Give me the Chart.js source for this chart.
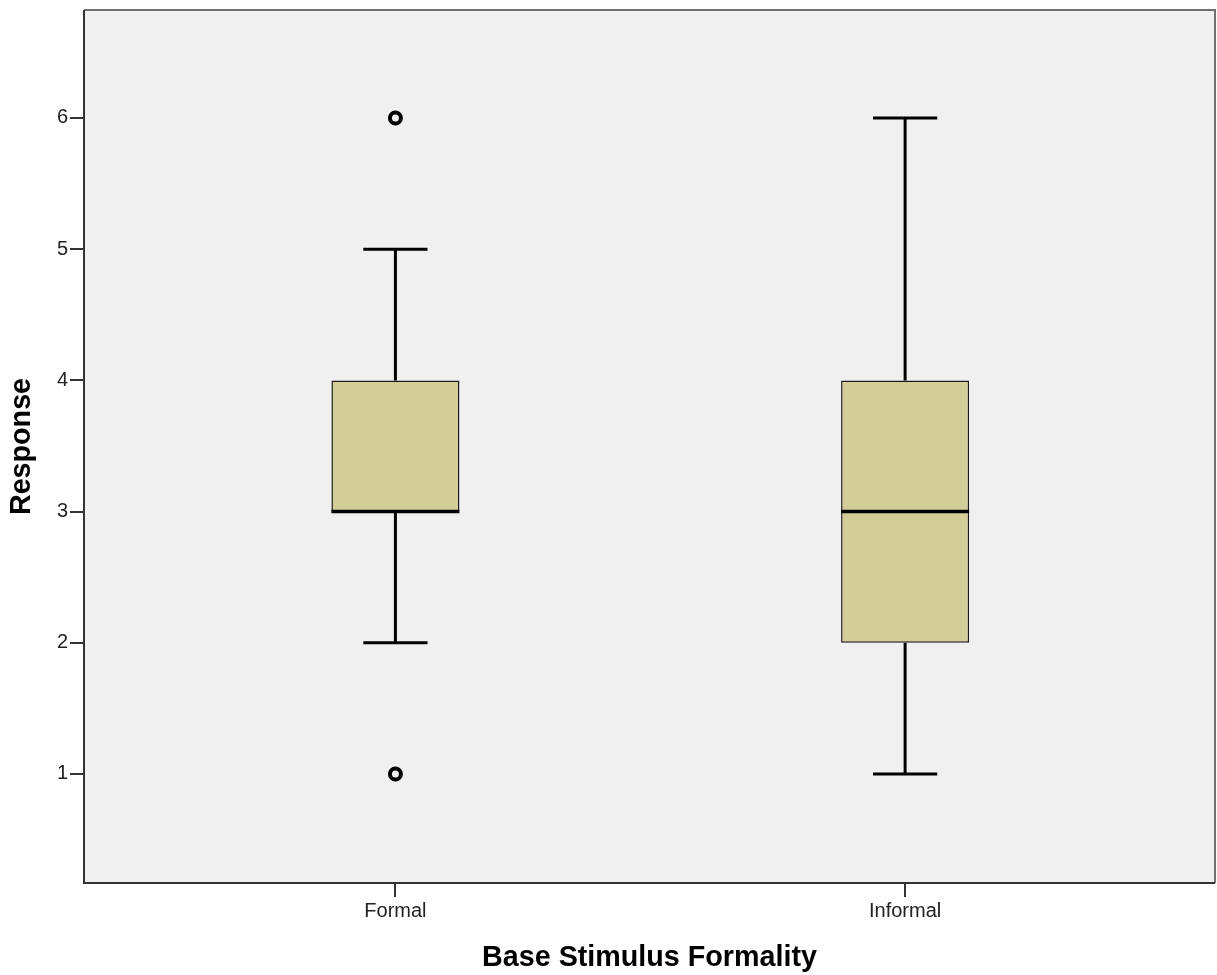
<!DOCTYPE html>
<html><head><meta charset="utf-8">
<script src="https://cdn.jsdelivr.net/npm/chart.js@4/dist/chart.umd.min.js"></script>
<style>html,body{margin:0;padding:0;background:#fff;} canvas{display:block;}</style>
</head><body>
<canvas id="c" width="1217" height="975"></canvas>
<script>
// ---- data ----
const CATEGORIES = ['Formal', 'Informal'];
const CATEGORY_X = [1, 2];
const WHISKER_LOW = [2, 1];
const Q1 = [3, 2];
const MEDIAN = [3, 3];
const Q3 = [4, 4];
const WHISKER_HIGH = [5, 6];
const OUTLIERS = [[1, 6], []];
const Y_TICKS = [1, 2, 3, 4, 5, 6];
const X_TITLE = 'Base Stimulus Formality';
const Y_TITLE = 'Response';

// ---- style constants ----
const BOX_FRACTION = 0.2512;   // box width as fraction of category spacing
const CAP_HALF = 0.063;        // whisker cap half-width (x units)
const BOX_FILL = '#D3CE98';
const PLOT_BG = '#F0F0F0';
const FONT = "'Liberation Sans', Arial, sans-serif";

function seg(arr, x1, y1, x2, y2) {
  arr.push({x: x1, y: y1}, {x: x2, y: y2}, {x: x2, y: null});
}
const whiskerPts = [];
const medianPts = [];
const outlierPts = [];
CATEGORY_X.forEach((x, i) => {
  seg(whiskerPts, x, Q3[i], x, WHISKER_HIGH[i]);
  seg(whiskerPts, x, Q1[i], x, WHISKER_LOW[i]);
  seg(whiskerPts, x - CAP_HALF, WHISKER_HIGH[i], x + CAP_HALF, WHISKER_HIGH[i]);
  seg(whiskerPts, x - CAP_HALF, WHISKER_LOW[i], x + CAP_HALF, WHISKER_LOW[i]);
  seg(medianPts, x - BOX_FRACTION / 2, MEDIAN[i], x + BOX_FRACTION / 2, MEDIAN[i]);
  OUTLIERS[i].forEach(v => outlierPts.push({x: x, y: v}));
});
const boxPts = CATEGORY_X.map((x, i) => ({x: x, y: [Q1[i], Q3[i]]}));

const framePlugin = {
  id: 'frame',
  beforeDraw(chart) {
    const {ctx, chartArea: a} = chart;
    ctx.save();
    ctx.fillStyle = PLOT_BG;
    ctx.fillRect(a.left, a.top, a.right - a.left, a.bottom - a.top);
    ctx.restore();
  },
  afterDraw(chart) {
    const {ctx, chartArea: a} = chart;
    ctx.save();
    ctx.lineWidth = 2;
    ctx.strokeStyle = '#707070';
    ctx.beginPath();
    ctx.moveTo(a.left, a.top); ctx.lineTo(a.right, a.top); ctx.lineTo(a.right, a.bottom);
    ctx.stroke();
    ctx.strokeStyle = '#333333';
    ctx.beginPath();
    ctx.moveTo(a.left, a.top); ctx.lineTo(a.left, a.bottom); ctx.lineTo(a.right, a.bottom);
    ctx.stroke();
    ctx.restore();
  }
};

Chart.defaults.font.family = FONT;
Chart.defaults.color = '#222';

new Chart(document.getElementById('c'), {
  type: 'bar',
  data: {
    datasets: [
      {
        type: 'bar', data: boxPts, backgroundColor: BOX_FILL, borderColor: '#1a1a1a',
        borderWidth: 1.5, borderSkipped: false, categoryPercentage: BOX_FRACTION, barPercentage: 1,
        order: 3
      },
      {
        type: 'line', data: whiskerPts, borderColor: '#000', borderWidth: 3, pointRadius: 0,
        spanGaps: false, fill: false, tension: 0, borderCapStyle: 'butt', order: 2
      },
      {
        type: 'line', data: medianPts, borderColor: '#000', borderWidth: 3.5, pointRadius: 0,
        spanGaps: false, fill: false, tension: 0, borderCapStyle: 'butt', order: 1
      },
      {
        type: 'scatter', data: outlierPts, pointRadius: 5.5, pointBorderWidth: 4,
        pointBorderColor: '#000', pointBackgroundColor: PLOT_BG, showLine: false, order: 0
      }
    ]
  },
  options: {
    responsive: false,
    devicePixelRatio: 1,
    animation: false,
    events: [],
    layout: {autoPadding: false, padding: {left: 0, top: 10, right: 2, bottom: 0}},
    plugins: {legend: {display: false}, tooltip: {enabled: false}},
    scales: {
      x: {
        type: 'linear', min: 0.389, max: 2.608, offset: false,
        afterBuildTicks(s) { s.ticks = CATEGORY_X.map(v => ({value: v})); },
        afterFit(s) { s.height = 92; s.paddingLeft = 0; s.paddingRight = 0; },
        ticks: {
          autoSkip: false, maxRotation: 0, padding: 2, color: '#222',
          font: {size: 20},
          callback: (v) => CATEGORIES[CATEGORY_X.indexOf(v)]
        },
        grid: {offset: false, drawOnChartArea: false, drawTicks: true, tickLength: 14, color: '#333', lineWidth: 2},
        border: {display: false},
        title: {display: true, text: X_TITLE, color: '#000', font: {size: 28.7, weight: 'bold', lineHeight: 1}, padding: {top: 0, bottom: 3}}
      },
      y: {
        type: 'linear', min: 0.169, max: 6.823,
        afterBuildTicks(s) { s.ticks = Y_TICKS.map(v => ({value: v})); },
        afterFit(s) { s.width = 84; s.paddingTop = 0; s.paddingBottom = 0; },
        ticks: {padding: 2, color: '#222', font: {size: 20}},
        grid: {drawOnChartArea: false, drawTicks: true, tickLength: 14, color: '#333', lineWidth: 2},
        border: {display: false},
        title: {display: true, text: Y_TITLE, color: '#000', font: {size: 28.7, weight: 'bold', lineHeight: 1}, padding: {top: 8, bottom: 0}}
      }
    }
  },
  plugins: [framePlugin]
});
</script>
</body></html>
